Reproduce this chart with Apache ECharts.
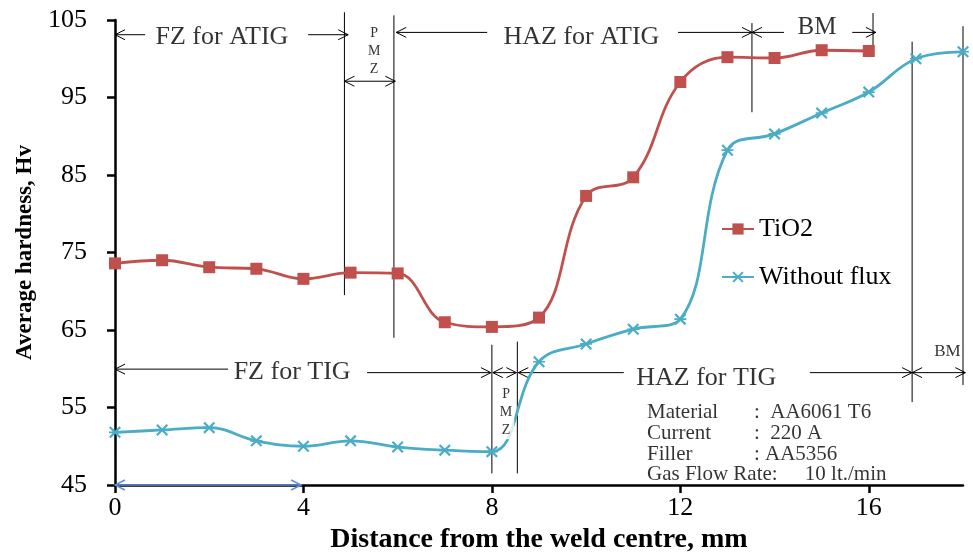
<!DOCTYPE html>
<html>
<head>
<meta charset="utf-8">
<script src="https://cdn.jsdelivr.net/npm/echarts@6/dist/echarts.min.js"></script>
<style>
  html, body { margin: 0; padding: 0; background: #fff; }
  #main { width: 973px; height: 555px; }
</style>
</head>
<body>
<div id="main"></div>
<script>
// 数据
const distance = [0, 1, 2, 3, 4, 5, 6, 7, 8, 9, 10, 11, 12, 13, 14, 15, 16, 17, 18]
const tio2 = [73.6, 74.0, 73.1, 72.9, 71.6, 72.4, 72.3, 66.0, 65.4, 66.6, 82.3, 84.7, 97.0, 100.2, 100.1, 101.1, 101.0]
const withoutFlux = [51.8, 52.1, 52.4, 50.7, 50.0, 50.7, 49.9, 49.5, 49.3, 60.9, 63.2, 65.1, 66.4, 88.2, 90.3, 93.0, 95.7, 100.0, 100.9]
const xTicks = [0, 4, 8, 12, 16]

// 区域分界线 [x, y起, y止]
const zoneLines = [
  [4.87, 106.0, 69.5], [5.92, 105.6, 64.0], [13.52, 104.6, 93.1], [16.09, 105.9, 101.1],
  [16.92, 102.2, 55.7], [18.0, 104.2, 57.9], [8.0, 63.1, 46.5], [8.54, 63.5, 46.5]
]
// 箭头 [x起, x止, y, 起点箭头, 终点箭头]
const zoneArrows = [
  [0.64, 0.0, 103.1, 0, 1], [4.1, 4.95, 103.1, 0, 1],
  [4.87, 5.95, 97.1, 1, 1],
  [7.9, 5.97, 103.4, 0, 1], [11.95, 13.52, 103.4, 0, 1],
  [14.2, 13.52, 103.4, 0, 1], [15.65, 16.15, 103.4, 0, 1],
  [2.4, 0.0, 59.95, 0, 1], [5.35, 7.98, 59.5, 0, 1],
  [8.02, 8.52, 59.5, 1, 1],
  [10.8, 8.56, 59.5, 0, 1], [14.75, 16.92, 59.5, 0, 1],
  [16.92, 18.05, 59.5, 1, 1]
]
// x轴上的蓝色箭头
const blueArrow = [0, 3.95, 45]

// 文字 [x, y, 内容, 字号, 对齐]
const zoneTexts = [
  [2.27, 102.8, 'FZ for ATIG', 26, 'center'],
  [5.5, 101.0, 'P\nM\nZ', 14, 'center'],
  [9.9, 102.8, 'HAZ for ATIG', 26, 'center'],
  [14.9, 104.0, 'BM', 25, 'center'],
  [3.76, 59.5, 'FZ for TIG', 26, 'center'],
  [8.3, 54.4, 'P\nM\nZ', 14, 'center'],
  [12.55, 58.8, 'HAZ for TIG', 26, 'center'],
  [17.67, 62.2, 'BM', 17, 'center'],
  [11.25, 54.4, 'Material', 21, 'left'],
  [11.25, 51.7, 'Current', 21, 'left'],
  [11.25, 49.0, 'Filler', 21, 'left'],
  [11.25, 46.3, 'Gas Flow Rate:', 21, 'left'],
  [13.52, 54.4, ':  AA6061 T6', 21, 'left'],
  [13.52, 51.7, ':  220 A', 21, 'left'],
  [13.52, 49.0, ': AA5356', 21, 'left'],
  [14.6, 46.3, '10 lt./min', 21, 'left']
]

const serif = '"Liberation Serif", "Times New Roman", serif'
const starX = 'path://M0,1.3 L1.3,0 L10,8.7 L8.7,10 Z M8.7,0 L10,1.3 L1.3,10 L0,8.7 Z M0,4.3 L10,4.3 L10,5.7 L0,5.7 Z'

// 线段数据 [x1, y1, x2, y2, 起点箭头, 终点箭头, 颜色]
const segments = []
zoneLines.forEach(l => segments.push([l[0], l[1], l[0], l[2], 0, 0, 0]))
zoneArrows.forEach(a => segments.push([a[0], a[2], a[1], a[2], a[3], a[4], 0]))
segments.push([blueArrow[0], blueArrow[2], blueArrow[1], blueArrow[2], 1, 1, 1])

// 开口箭头
const headPoints = (from, to) => {
  const dx = to[0] - from[0]
  const dy = to[1] - from[1]
  const len = Math.sqrt(dx * dx + dy * dy) || 1
  const ux = dx / len
  const uy = dy / len
  const L = 10
  const W = 5
  return [
    [to[0] - ux * L - uy * W, to[1] - uy * L + ux * W],
    [to[0], to[1]],
    [to[0] - ux * L + uy * W, to[1] - uy * L - ux * W]
  ]
}

const renderSegment = (params, api) => {
  const p1 = api.coord([api.value(0), api.value(1)])
  const p2 = api.coord([api.value(2), api.value(3)])
  const blue = api.value(6) === 1
  const style = { stroke: blue ? '#5f8fd6' : '#000', lineWidth: blue ? 1.5 : 1, fill: null }
  const children = [{ type: 'line', shape: { x1: p1[0], y1: p1[1], x2: p2[0], y2: p2[1] }, style }]
  if (api.value(4)) children.push({ type: 'polyline', shape: { points: headPoints(p2, p1) }, style })
  if (api.value(5)) children.push({ type: 'polyline', shape: { points: headPoints(p1, p2) }, style })
  return { type: 'group', children }
}

const myChart = echarts.init(document.getElementById('main'))

const option = {
  animation: false,
  backgroundColor: '#fff',
  grid: { left: 115, right: 10, top: 20, bottom: 70, outerBoundsMode: 'none' },
  legend: {
    data: ['TiO2', 'Without flux'],
    orient: 'vertical',
    left: 716,
    top: 211,
    itemGap: 22,
    itemWidth: 32,
    itemHeight: 14,
    textStyle: { fontFamily: serif, fontSize: 26, color: '#000' }
  },
  xAxis: {
    type: 'value',
    min: 0,
    max: 18,
    interval: 4,
    name: 'Distance from the weld centre, mm',
    nameLocation: 'middle',
    nameGap: 40,
    nameTextStyle: { fontFamily: serif, fontSize: 28, fontWeight: 'bold', color: '#000' },
    axisLine: { lineStyle: { color: '#000', width: 2.5 } },
    axisTick: { customValues: xTicks, length: 8, lineStyle: { color: '#000', width: 2.5 } },
    axisLabel: { customValues: xTicks, margin: 10, fontFamily: serif, fontSize: 26, color: '#000' },
    splitLine: { show: false }
  },
  yAxis: {
    type: 'value',
    min: 45,
    max: 105,
    interval: 10,
    name: 'Average hardness, Hv',
    nameLocation: 'middle',
    nameGap: 78,
    nameTextStyle: { fontFamily: serif, fontSize: 23, fontWeight: 'bold', color: '#000' },
    axisLine: { show: true, lineStyle: { color: '#000', width: 2.5 } },
    axisTick: { show: true, length: 8, lineStyle: { color: '#000', width: 2.5 } },
    axisLabel: { margin: 28, fontFamily: serif, fontSize: 26, color: '#000' },
    splitLine: { show: false }
  },
  series: [
    {
      name: 'zones',
      type: 'custom',
      silent: true,
      clip: false,
      renderItem: renderSegment,
      data: segments,
      z: 2
    },
    {
      name: 'TiO2',
      type: 'line',
      data: tio2.map((v, i) => [distance[i], v]),
      smooth: 0.4,
      symbol: 'rect',
      symbolSize: 12,
      color: '#c0504d',
      lineStyle: { width: 2.8 },
      z: 3
    },
    {
      name: 'Without flux',
      type: 'line',
      data: withoutFlux.map((v, i) => [distance[i], v]),
      smooth: 0.4,
      symbol: starX,
      symbolSize: 12,
      color: '#4bacc6',
      lineStyle: { width: 2.8 },
      z: 3
    },
    {
      name: 'notes',
      type: 'scatter',
      symbolSize: 0,
      silent: true,
      clip: false,
      z: 5,
      data: zoneTexts.map(t => ({
        value: [t[0], t[1]],
        label: {
          show: true,
          position: 'inside',
          formatter: t[2],
          align: t[4],
          verticalAlign: 'middle',
          fontFamily: serif,
          fontSize: t[3],
          lineHeight: t[3] === 14 ? 18 : t[3] + 2,
          color: '#000',
          backgroundColor: t[3] === 14 ? '#fff' : 'transparent',
          padding: [0, 2]
        }
      }))
    }
  ]
}
myChart.setOption(option)
</script>
</body>
</html>
